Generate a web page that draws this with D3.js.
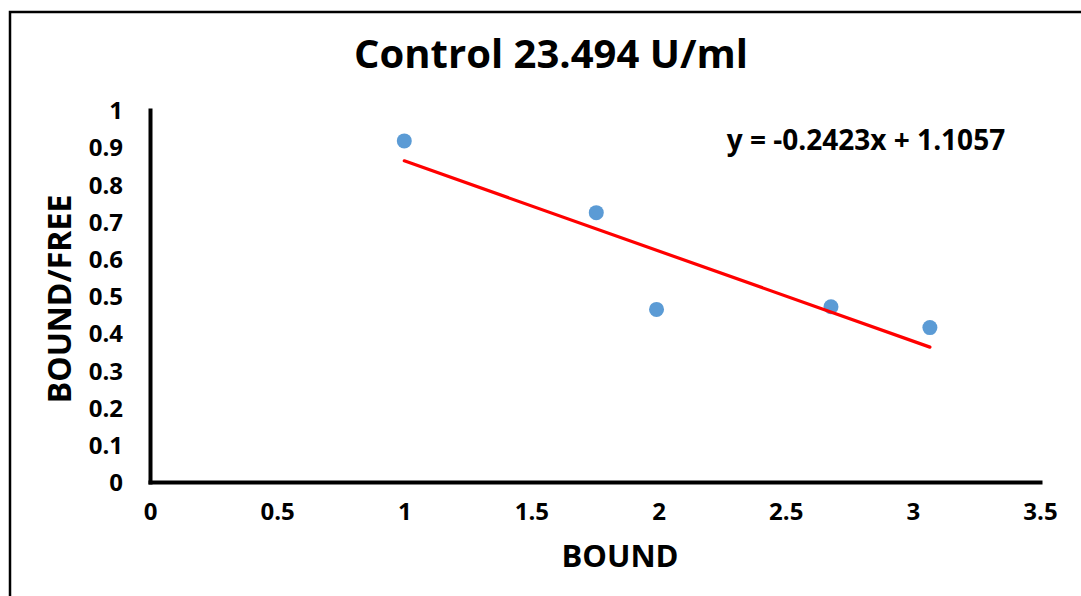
<!DOCTYPE html>
<html>
<head>
<meta charset="utf-8">
<script src="https://cdn.jsdelivr.net/npm/d3@7"></script>
<style>
  html, body { margin: 0; padding: 0; background: #fff; }
  svg { display: block; }
  text { font-family: "Open Sans", sans-serif; font-weight: 700; fill: #000; }
</style>
</head>
<body>
<svg id="chart" width="1081" height="596"></svg>
<script>
// Scatchard plot: bound vs bound/free
const bound = [1.0, 1.755, 1.992, 2.678, 3.067];
const boundFree = [0.917, 0.724, 0.464, 0.471, 0.415];
const slope = -0.2423;
const intercept = 1.1057;
const xTicks = [0, 0.5, 1, 1.5, 2, 2.5, 3, 3.5];
const yTicks = [0, 0.1, 0.2, 0.3, 0.4, 0.5, 0.6, 0.7, 0.8, 0.9, 1];
const titleText = "Control 23.494 U/ml";
const xTitle = "BOUND";
const yTitle = "BOUND/FREE";

const svg = d3.select("#chart");
const W = 1081, H = 596;

// chart frame (runs off the right and bottom edges)
svg.append("rect")
  .attr("x", 10).attr("y", 12)
  .attr("width", W + 20).attr("height", H + 20)
  .attr("fill", "#fff").attr("stroke", "#000").attr("stroke-width", 2.5);

const plot = { left: 150, right: 1040, top: 110, bottom: 482 };
const x = d3.scaleLinear().domain([0, 3.5]).range([plot.left, plot.right]);
const y = d3.scaleLinear().domain([0, 1]).range([plot.bottom, plot.top]);

// axes: plain lines, no tick marks
const xAxis = d3.axisBottom(x).tickValues(xTicks).tickSize(0).tickPadding(21)
  .tickFormat(d3.format("~g"));
const yAxis = d3.axisLeft(y).tickValues(yTicks).tickSize(0).tickPadding(27)
  .tickFormat(d3.format("~g"));

const gx = svg.append("g").attr("transform", `translate(0,${plot.bottom})`).call(xAxis);
const gy = svg.append("g").attr("transform", `translate(${plot.left},0)`).call(yAxis);
[gx, gy].forEach(g => {
  g.select(".domain").attr("stroke", "#000").attr("stroke-width", 4)
    .attr("stroke-linecap", "square");
  g.selectAll("text").style("font-family", "'Open Sans', sans-serif")
    .style("font-weight", 700).style("font-size", "24px").attr("fill", "#000");
});
gy.selectAll("text").attr("dy", "0.36em");

// data points
svg.append("g").selectAll("circle")
  .data(bound.map((b, i) => [b, boundFree[i]]))
  .join("circle")
  .attr("cx", d => x(d[0])).attr("cy", d => y(d[1]))
  .attr("r", 7.5).attr("fill", "#5B9BD5");

// linear trendline over the data range
const xr = d3.extent(bound);
svg.append("line")
  .attr("x1", x(xr[0])).attr("y1", y(slope * xr[0] + intercept))
  .attr("x2", x(xr[1])).attr("y2", y(slope * xr[1] + intercept))
  .attr("stroke", "#FF0000").attr("stroke-width", 3.2).attr("stroke-linecap", "round");

// trendline equation
svg.append("text")
  .attr("x", 866).attr("y", 150)
  .attr("text-anchor", "middle").style("font-size", "28px")
  .text(`y = ${slope}x + ${intercept}`);

// titles
svg.append("text")
  .attr("x", 551).attr("y", 68)
  .attr("text-anchor", "middle").style("font-size", "40px")
  .text(titleText);

svg.append("text")
  .attr("x", 620).attr("y", 567)
  .attr("text-anchor", "middle").style("font-size", "31px")
  .text(xTitle);

svg.append("text")
  .attr("transform", "translate(71,299) rotate(-90)")
  .attr("text-anchor", "middle").style("font-size", "32px")
  .text(yTitle);
</script>
</body>
</html>
